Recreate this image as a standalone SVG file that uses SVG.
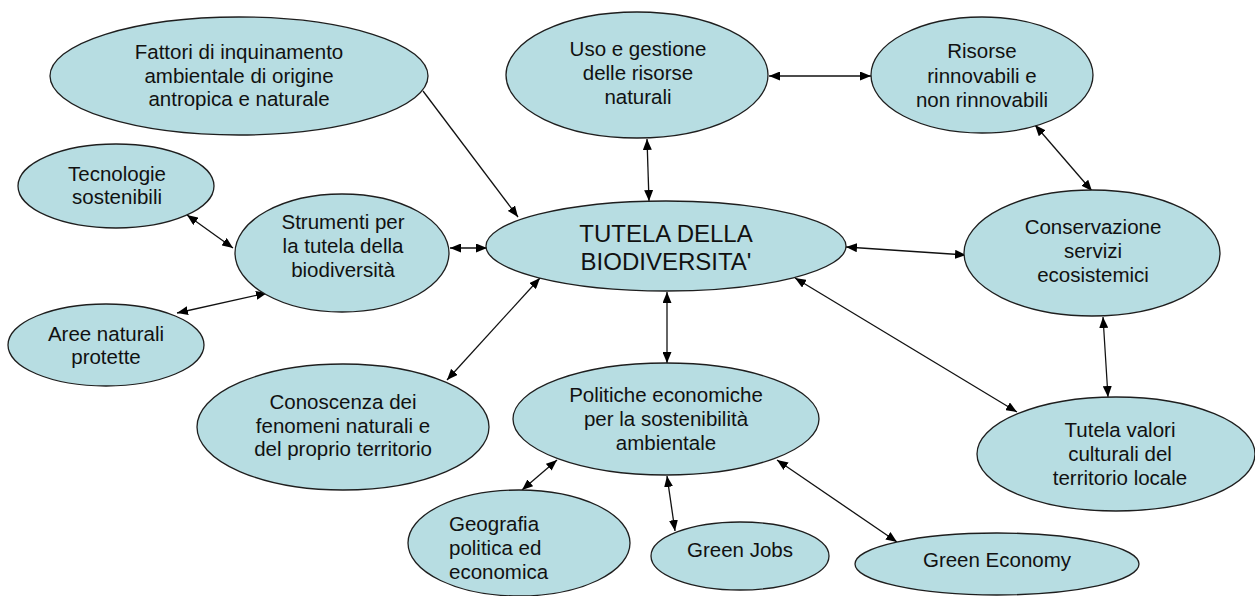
<svg xmlns="http://www.w3.org/2000/svg" width="1255" height="596" viewBox="0 0 1255 596">
<style>
.n ellipse{fill:#b7dde2;stroke:#1e1e1e;stroke-width:1.3}
.n text{font-family:"Liberation Sans",Arial,sans-serif;font-size:20.5px;fill:#111;text-anchor:middle}
.big text{font-size:24px}
#connectors line{stroke:#111;stroke-width:1.3;fill:none}
</style>
<defs>
<marker id="ah" viewBox="0 0 11 9" markerUnits="userSpaceOnUse" markerWidth="11" markerHeight="9" refX="11" refY="4.5" orient="auto-start-reverse">
<path d="M0,0 L11,4.5 L0,9 z" fill="#000"/>
</marker>
</defs>
<rect width="1255" height="596" fill="#fff"/>
<g id="connectors">
<line x1="423" y1="91" x2="518" y2="217" marker-end="url(#ah)"/>
<line x1="450" y1="248" x2="487" y2="248" marker-start="url(#ah)" marker-end="url(#ah)"/>
<line x1="447" y1="380" x2="540" y2="278" marker-start="url(#ah)" marker-end="url(#ah)"/>
<line x1="647" y1="139" x2="649" y2="201" marker-start="url(#ah)" marker-end="url(#ah)"/>
<line x1="769" y1="76" x2="871" y2="76" marker-start="url(#ah)" marker-end="url(#ah)"/>
<line x1="1035" y1="125" x2="1092" y2="191" marker-start="url(#ah)" marker-end="url(#ah)"/>
<line x1="846" y1="247" x2="966" y2="255" marker-start="url(#ah)" marker-end="url(#ah)"/>
<line x1="795" y1="278" x2="1017" y2="412" marker-start="url(#ah)" marker-end="url(#ah)"/>
<line x1="1103" y1="317" x2="1108" y2="397" marker-start="url(#ah)" marker-end="url(#ah)"/>
<line x1="667" y1="292" x2="667" y2="363" marker-start="url(#ah)" marker-end="url(#ah)"/>
<line x1="557" y1="460" x2="522" y2="490" marker-start="url(#ah)" marker-end="url(#ah)"/>
<line x1="667" y1="476" x2="675" y2="531" marker-start="url(#ah)" marker-end="url(#ah)"/>
<line x1="777" y1="460" x2="897" y2="542" marker-start="url(#ah)" marker-end="url(#ah)"/>
<line x1="187" y1="215" x2="233" y2="248" marker-start="url(#ah)" marker-end="url(#ah)"/>
<line x1="177" y1="313" x2="267" y2="293" marker-start="url(#ah)" marker-end="url(#ah)"/>
</g>
<g id="n-fattori" class="n">
<ellipse cx="239" cy="76" rx="189" ry="59"/>
<text x="239" y="59">Fattori di inquinamento</text>
<text x="239" y="83">ambientale di origine</text>
<text x="239" y="106">antropica e naturale</text>
</g>
<g id="n-uso" class="n">
<ellipse cx="637" cy="75" rx="131" ry="63"/>
<text x="638" y="56">Uso e gestione</text>
<text x="638" y="80">delle risorse</text>
<text x="638" y="104">naturali</text>
</g>
<g id="n-risorse" class="n">
<ellipse cx="982" cy="75" rx="111" ry="58"/>
<text x="982" y="58">Risorse</text>
<text x="982" y="83">rinnovabili e</text>
<text x="982" y="107">non rinnovabili</text>
</g>
<g id="n-tecnologie" class="n">
<ellipse cx="116" cy="186" rx="98" ry="42"/>
<text x="117" y="181">Tecnologie</text>
<text x="117" y="204">sostenibili</text>
</g>
<g id="n-strumenti" class="n">
<ellipse cx="342" cy="253" rx="107" ry="59"/>
<text x="343" y="229">Strumenti per</text>
<text x="343" y="253">la tutela della</text>
<text x="343" y="277">biodiversità</text>
</g>
<g id="n-tutela" class="n big">
<ellipse cx="666" cy="246" rx="180" ry="45"/>
<text x="666" y="242">TUTELA DELLA</text>
<text x="666" y="270">BIODIVERSITA'</text>
</g>
<g id="n-conservazione" class="n">
<ellipse cx="1092" cy="253" rx="128" ry="63"/>
<text x="1093" y="234">Conservazione</text>
<text x="1093" y="258">servizi</text>
<text x="1093" y="282">ecosistemici</text>
</g>
<g id="n-aree" class="n">
<ellipse cx="106" cy="345" rx="98" ry="41"/>
<text x="106" y="341">Aree naturali</text>
<text x="106" y="364">protette</text>
</g>
<g id="n-conoscenza" class="n">
<ellipse cx="343" cy="427" rx="146" ry="63"/>
<text x="343" y="409">Conoscenza dei</text>
<text x="343" y="433">fenomeni naturali e</text>
<text x="343" y="456">del proprio territorio</text>
</g>
<g id="n-politiche" class="n">
<ellipse cx="666" cy="419" rx="153" ry="56"/>
<text x="666" y="402">Politiche economiche</text>
<text x="666" y="426">per la sostenibilità</text>
<text x="666" y="450">ambientale</text>
</g>
<g id="n-tutelavalori" class="n">
<ellipse cx="1116" cy="454" rx="139" ry="57"/>
<text x="1120" y="437">Tutela valori</text>
<text x="1120" y="461">culturali del</text>
<text x="1120" y="485">territorio locale</text>
</g>
<g id="n-geografia" class="n">
<ellipse cx="519" cy="543" rx="111" ry="53"/>
<text x="449" y="531" style="text-anchor:start">Geografia</text>
<text x="449" y="555" style="text-anchor:start">politica ed</text>
<text x="449" y="579" style="text-anchor:start">economica</text>
</g>
<g id="n-greenjobs" class="n">
<ellipse cx="740" cy="556" rx="89" ry="34"/>
<text x="740" y="557">Green Jobs</text>
</g>
<g id="n-greeneconomy" class="n">
<ellipse cx="997" cy="564" rx="142" ry="31"/>
<text x="997" y="567">Green Economy</text>
</g>
</svg>
